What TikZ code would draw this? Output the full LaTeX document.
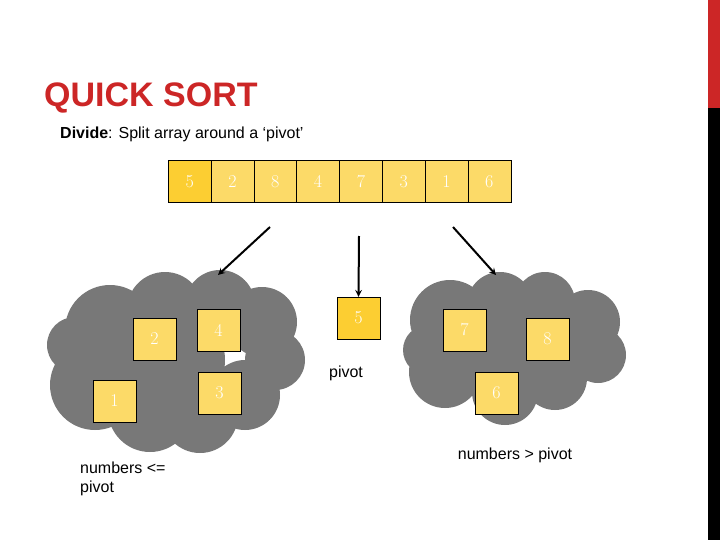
\documentclass[tikz,border=0pt]{standalone}
\usepackage{fontspec}
\setsansfont{Liberation Sans}
\usetikzlibrary{positioning}
\definecolor{cellyellow}{RGB}{252,218,104}
\definecolor{pivotyellow}{RGB}{252,206,50}
\definecolor{cloudgray}{RGB}{120,120,120}
\definecolor{titlered}{RGB}{204,38,38}
\begin{document}
\begin{tikzpicture}[x=1pt,y=-1pt,
  cell/.style={draw=black,fill=cellyellow,minimum width=43pt,minimum height=42pt,inner sep=0pt,text=white,font=\fontsize{18}{20}\selectfont\rmfamily},
  label/.style={font=\fontsize{16}{19}\selectfont\sffamily,align=left}]
\useasboundingbox (0,0) rectangle (720,540);

% side bar
\fill[titlered] (708,0) rectangle (720,108);
\fill[black] (708,108) rectangle (720,540);

% title
\node (title) [anchor=base west,inner sep=0pt,text=titlered,font=\fontsize{34}{38}\selectfont\sffamily\bfseries] at (44,107) {QUICK SORT};
\node (divide) [label,anchor=base west,inner sep=0pt] at (60,139) {\textbf{Divide}: Split array around a `pivot'};

% array
\foreach \v [count=\i] in {5,2,8,4,7,3,1,6}
  \node (c\i) [cell,anchor=north west] at (168+42.8*\i-42.8,160.5) {\v};
\node [cell,fill=pivotyellow,anchor=north west] at (168,160.5) {5};

% clouds
\fill[cloudgray] (110,330) circle (45) (165,310) circle (38) (220,305) circle (35)
  (262,322) circle (35) (275,360) circle (30) (95,385) circle (45) (150,410) circle (42)
  (200,415) circle (38) (245,395) circle (35) (170,360) circle (55) (75,345) circle (28);
\fill[cloudgray] (450,320) circle (40) (500,305) circle (33) (545,302) circle (30)
  (588,322) circle (32) (598,355) circle (28) (445,372) circle (36) (505,392) circle (33)
  (555,378) circle (32) (520,345) circle (55) (428,350) circle (25);

% parts
\node (l2) [cell] at (154.5,339) {2};
\node (l4) [cell] at (218.5,330) {4};
\node (l1) [cell] at (114.5,401) {1};
\node (l3) [cell] at (219.5,393) {3};
\node (p5) [cell,fill=pivotyellow] at (358.5,318) {5};
\node (r7) [cell] at (464.5,330) {7};
\node (r8) [cell] at (547.5,339) {8};
\node (r6) [cell] at (496.5,393) {6};

% labels
\node (pivot) [label] at (346,373) {pivot};
\node (big) [label] at (515,455) {numbers > pivot};
\node (small) [label,anchor=north west,inner sep=0pt] at (80,462) {numbers <=\\pivot};

% arrows
\coordinate (a1) at (270,227); \coordinate (a2) at (359,236); \coordinate (a3) at (453,227);
\draw[->,line width=2pt,>=stealth] (a1) -- (218,275);
\draw[->,line width=2pt,>=stealth] (a2) -- (p5.north);
\draw[->,line width=2pt,>=stealth] (a3) -- (496,275);
\end{tikzpicture}
\end{document}
